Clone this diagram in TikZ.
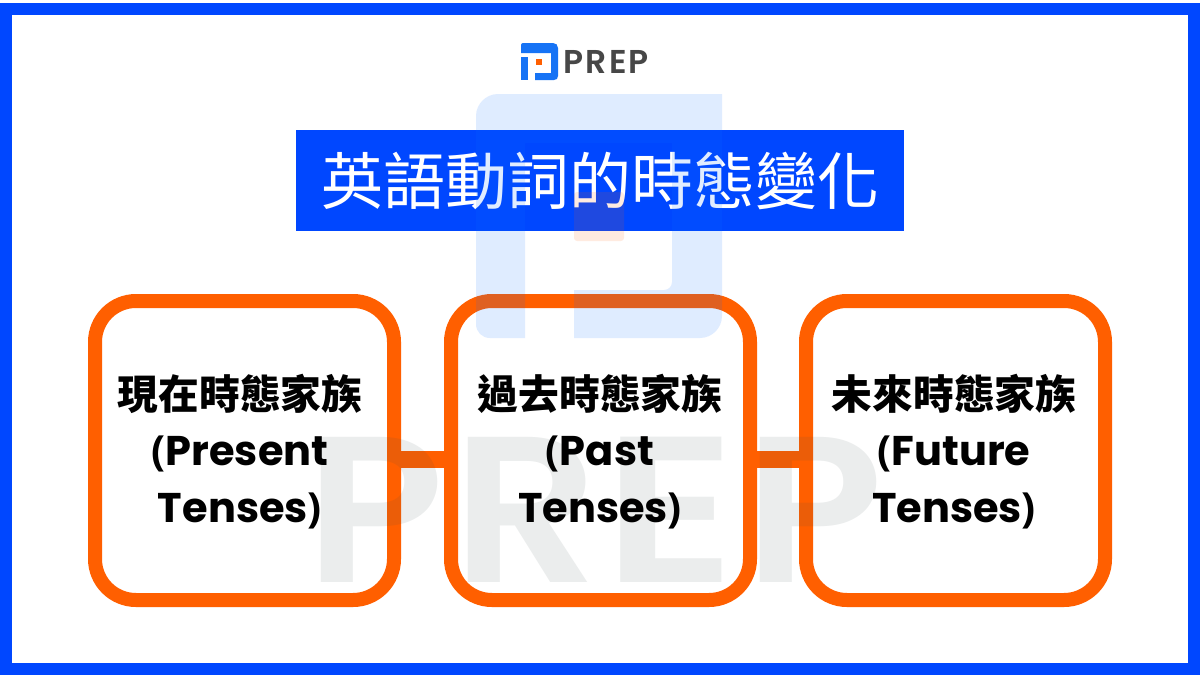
\documentclass[tikz,border=0pt]{standalone}
\usepackage{graphicx}
\usepackage{fontspec}
\setmainfont{Poppins}
\newfontfamily\cjkbold{Noto Sans CJK TC Bold}
\newfontfamily\cjkreg{Noto Sans CJK TC}
\newfontfamily\popb{Poppins SemiBold}
\newfontfamily\popm{Poppins SemiBold}
\newfontfamily\parenfont{Open Sans}
\definecolor{frameblue}{HTML}{0047FF}
\definecolor{titleblue}{HTML}{0047FF}
\definecolor{logoblue}{HTML}{1673F5}
\definecolor{prepor}{HTML}{FF5F00}
\definecolor{wmblue}{HTML}{0F6EFF}
\definecolor{wmgray}{HTML}{3C5050}
\tikzset{
 famsbox/.style={draw=prepor,line width=14pt,rounded corners=41pt,minimum width=299pt,minimum height=299pt,fill=none,outer sep=0pt},
 link/.style={draw=prepor,line width=17pt},
 famlabel/.style={align=center,font=\fontsize{41.5}{56.5}\selectfont\bfseries,text=black,inner sep=0pt},
 wmletter/.style={inner sep=0pt,text=wmgray,opacity=0.10,text opacity=0.10,font=\fontsize{208}{208}\selectfont\popb,anchor=base west},
}
\newcommand{\zh}[1]{{\fontsize{40.7}{56.5}\selectfont\cjkbold #1}}
\newcommand{\lp}{{\parenfont\bfseries(}}
\newcommand{\rp}{{\parenfont\bfseries)}}
\begin{document}
\begin{tikzpicture}[x=1pt,y=-1pt]
\useasboundingbox (0,0) rectangle (1200,675);
\fill[white] (0,0) rectangle (1200,675);
\draw[frameblue,line width=12pt] (6,9) rectangle (1194,669);
\fill[frameblue] (0,663) rectangle (1200,675);
% title
\node[fill=titleblue,minimum width=608pt,minimum height=101pt,inner sep=0pt,outer sep=0pt,text=white,font=\fontsize{62}{62}\selectfont\cjkreg] (title) at (600,180.5) {英語動詞的時態變化};
% boxes
\node[famsbox] (b1) at (244.5,450.5) {};
\node[famsbox] (b2) at (600.5,450.5) {};
\node[famsbox] (b3) at (955.5,450.5) {};
\draw[link] ([yshift=-9pt]b1.east) -- ([yshift=-9pt]b2.west);
\draw[link] ([yshift=-9pt]b2.east) -- ([yshift=-9pt]b3.west);
% watermark P
\fill[wmblue,opacity=0.13] (476,116) .. controls (476,104) and (486,94) .. (498,94) -- (722,94) -- (722,316) .. controls (722,328) and (712,338) .. (700,338) -- (574,338) -- (574,290) -- (664,290) .. controls (668.4,290) and (672,286.4) .. (672,282) -- (672,143) -- (525,143) -- (525,338) -- (490,338) .. controls (482,338) and (476,332) .. (476,324) -- cycle;
\fill[prepor,opacity=0.12,rounded corners=3pt] (574,192) rectangle (624,241);
% watermark PREP
\node[wmletter] (w1) at (305.5,582) {\scalebox{1.1}[1]{P}};
\node[wmletter] (w2) at (452,582) {\scalebox{1.1}[1]{R}};
\node[wmletter] (w3) at (603,582) {\scalebox{1.2}[1]{E}};
\node[wmletter] (w4) at (744.5,582) {\scalebox{1.1}[1]{P}};
% labels
\node[famlabel] (t1) at (240,451.5) {\zh{現在時態家族}\\\lp Present\\Tenses\rp};
\node[famlabel] (t2) at (600,451.5) {\zh{過去時態家族}\\\lp Past\\Tenses\rp};
\node[famlabel] (t3) at (954,451.5) {\zh{未來時態家族}\\\lp Future\\Tenses\rp};
% logo
\fill[logoblue] (521,45) .. controls (521,44) and (522,43) .. (523,43) -- (553,43) .. controls (556,43) and (558,45) .. (558,48) -- (558,76) .. controls (558,78.5) and (556.5,80) .. (554,80) -- (535,80) -- (535,73) -- (551,73) -- (551,53) -- (521,53) -- cycle;
\fill[logoblue] (521,57) rectangle (528,80);
\fill[prepor] (536,59) rectangle (542,65);
\node[anchor=base west,inner sep=0pt,text=black!72,font=\fontsize{33}{33}\selectfont\popm] (logo) at (563,73) {\addfontfeature{LetterSpace=7}PREP};
\end{tikzpicture}
\end{document}
